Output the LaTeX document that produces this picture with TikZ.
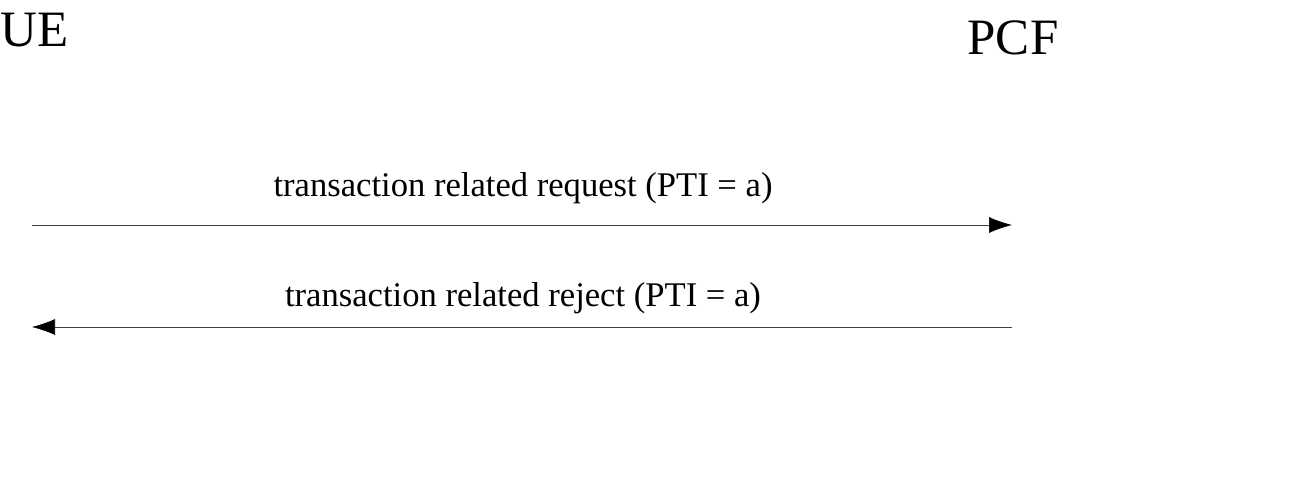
\documentclass[tikz,border=0pt]{standalone}
\usepackage{fontspec}
\setmainfont{Liberation Serif}
\usetikzlibrary{arrows.meta}
\begin{document}
\begin{tikzpicture}[x=1pt,y=-1pt,
  entity/.style={inner sep=0pt,font=\fontsize{51}{60}\selectfont},
  msglabel/.style={inner sep=0pt,font=\fontsize{34.6}{40}\selectfont},
  msg/.style={line width=0.6pt,draw=black!75,-{Latex[length=23pt,width=16pt,color=black]}}]
\useasboundingbox (0,0) rectangle (1301,496);
\node[entity,anchor=base west] (ue) at (0,46) {UE};
\node[entity,anchor=base] (pcf) at (1013,54) {PCF};
\coordinate (a1) at (32,225);
\coordinate (b1) at (1012,225);
\coordinate (a2) at (32,327);
\coordinate (b2) at (1012,327);
\draw[msg] (a1) -- (b1);
\draw[msg] (b2) -- (a2);
\node[msglabel,anchor=base] (l1) at (523,196) {transaction related request (PTI = a)};
\node[msglabel,anchor=base] (l2) at (523,306) {transaction related reject (PTI = a)};
\end{tikzpicture}
\end{document}
